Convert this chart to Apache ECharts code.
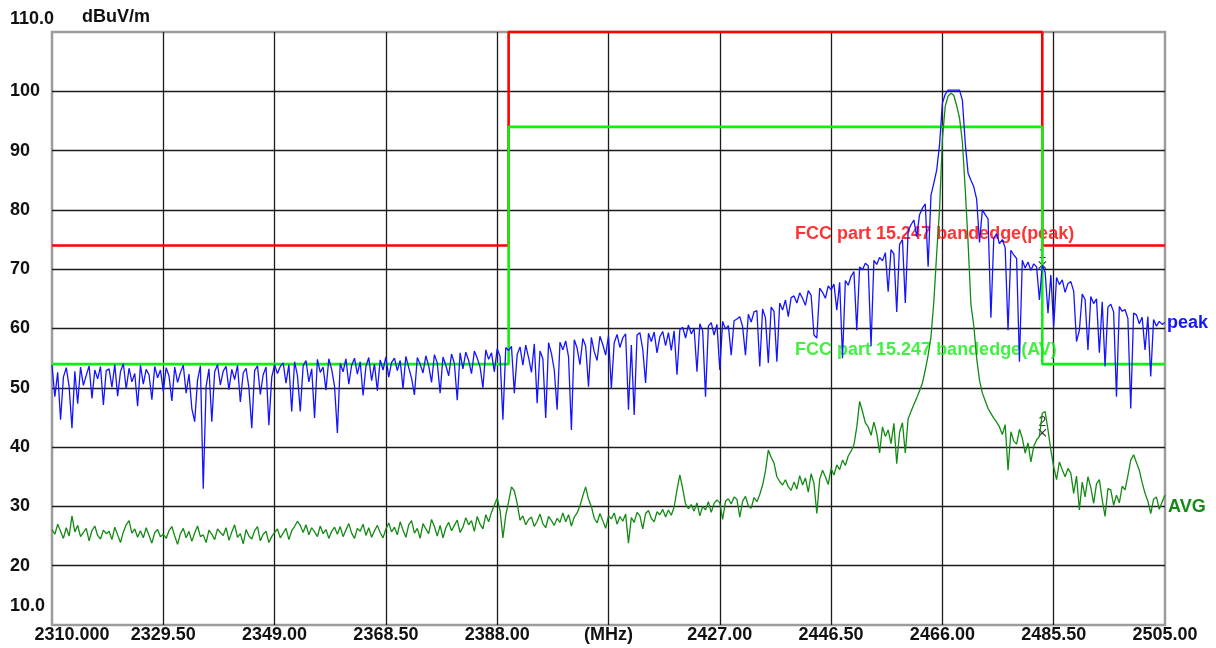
<!DOCTYPE html>
<html>
<head>
<meta charset="utf-8">
<title>Band edge scan 2310-2505 MHz</title>
<script src="https://cdn.jsdelivr.net/npm/echarts@6.0.0/dist/echarts.min.js"></script>
<style>
  html, body { margin: 0; padding: 0; background: #ffffff; }
  #chart { width: 1216px; height: 648px; }
</style>
</head>
<body>
<div id="chart"></div>
<script>
// Sweep sampling: one reading every 0.5 MHz from 2310 MHz to 2505 MHz
const freqStart = 2310;
const freqStep = 0.5;

// Peak detector trace (dBuV/m)
const peakLevels = [
  53.8, 48.5, 52.6, 44.6, 51.8, 53.4, 50.2, 43.2, 52.8, 47.3, 53.5, 50.4, 52.1, 53.7, 48.2, 53.0, 51.5, 53.6, 47.1, 52.9,
  53.2, 50.1, 53.9, 48.6, 52.7, 54.1, 49.8, 53.3, 51.0, 52.4, 46.9, 53.8, 50.6, 53.1, 52.2, 48.0, 53.6, 51.7, 53.0, 49.4,
  53.4, 52.0, 47.8, 53.5, 50.9, 52.6, 53.8, 49.1, 52.3, 46.5, 44.3, 51.3, 53.7, 33.0, 50.2, 53.2, 44.3, 52.7, 53.9, 50.5,
  52.8, 53.6, 49.7, 53.1, 51.4, 53.8, 47.6, 52.5, 53.3, 50.0, 43.2, 52.9, 53.7, 48.9, 52.2, 53.5, 43.7, 51.8, 53.9, 52.4,
  53.6, 54.2, 50.8, 53.9, 46.0, 54.4, 52.1, 46.0, 53.7, 54.6, 51.0, 53.2, 44.9, 54.8, 52.6, 53.5, 49.6, 54.9, 53.1, 50.3,
  42.4, 54.1, 52.7, 54.9, 50.6, 53.8, 55.0, 52.3, 54.4, 48.7, 53.6, 55.1, 51.2, 54.0, 49.5, 54.7, 53.0, 55.2, 51.8, 54.3,
  55.0, 52.9, 54.6, 49.9, 55.3, 53.4, 51.6, 48.8, 55.1, 54.0, 52.5, 55.4, 53.7, 50.9, 55.6, 54.2, 49.1, 55.2, 53.8, 52.0,
  55.7, 54.1, 47.9, 55.9, 53.2, 56.0, 54.6, 52.4, 56.2, 55.0, 53.5, 50.0, 56.4, 54.8, 55.9, 52.7, 56.6, 55.3, 44.6, 56.8,
  56.3, 57.0, 49.1, 55.6, 56.9, 53.8, 57.2, 55.1, 52.6, 57.4, 47.4, 56.2, 54.9, 44.9, 57.6, 55.8, 53.0, 46.3, 57.7, 56.4,
  57.9, 55.2, 42.9, 58.1, 56.7, 53.9, 58.3, 57.0, 50.2, 58.5, 56.1, 54.6, 58.7, 57.3, 55.5, 58.8, 49.9, 57.6, 59.0, 56.8,
  58.4, 59.1, 46.3, 57.2, 45.4, 58.9, 59.3, 56.5, 50.8, 59.2, 57.8, 59.4, 55.9, 58.6, 59.5, 57.1, 59.3, 56.3, 59.6, 52.2,
  59.8, 60.2, 58.4, 60.6, 59.1, 60.0, 52.7, 60.8, 59.6, 48.5, 60.4, 61.0, 58.9, 60.7, 53.0, 61.2, 59.9, 60.5, 55.5, 61.3,
  61.6, 62.0, 60.3, 55.5, 62.4, 61.1, 62.8, 63.0, 53.6, 63.3, 61.8, 54.2, 63.6, 62.9, 54.4, 64.3, 63.1, 64.8, 62.0, 65.2,
  65.5, 64.3, 66.0, 65.1, 63.9, 66.4, 65.6, 58.9, 58.4, 66.8, 66.1, 65.1, 67.2, 66.5, 67.5, 63.1, 67.8, 55.0, 68.1, 67.3,
  68.8, 69.6, 59.7, 70.4, 69.9, 71.0, 70.6, 57.0, 71.5, 70.8, 72.0, 71.4, 72.8, 66.2, 73.3, 72.6, 62.8, 74.2, 75.0, 64.3,
  76.5, 77.5, 78.3, 75.5, 79.2, 80.3, 81.0, 70.4, 82.5, 84.5, 86.7, 91.0, 98.0, 99.5, 100.2, 100.2, 100.2, 100.2, 100.2, 98.5,
  91.3, 86.2, 85.0, 83.9, 81.8, 74.5, 80.0, 79.2, 78.5, 61.8, 75.2, 76.0, 74.3, 75.0, 73.6, 59.7, 73.2, 72.4, 71.8, 54.4,
  71.5, 70.2, 71.2, 69.8, 70.9, 70.4, 64.8, 70.7, 69.5, 62.6, 69.0, 60.3, 68.6, 67.4, 68.2, 66.1, 67.6, 67.9, 66.3, 57.8,
  59.7, 65.8, 64.9, 56.4, 65.4, 64.2, 65.0, 55.9, 64.5, 53.6, 63.6, 64.1, 62.8, 48.5, 63.7, 62.9, 63.2, 61.7, 46.5, 62.6,
  62.3, 60.8, 61.9, 56.4, 62.0, 51.9, 61.5, 60.4, 61.2, 60.7, 61.0
];

// Average detector trace (dBuV/m)
const avgLevels = [
  26.1, 25.3, 27.0, 25.8, 24.6, 26.4, 25.0, 28.4, 25.7, 26.8, 24.9, 25.6, 26.3, 24.2, 25.9, 26.7, 25.1, 24.5, 26.0, 25.4,
  25.8, 24.4, 26.5, 25.2, 23.9, 25.7, 26.9, 27.6, 25.5, 26.2, 24.8, 25.9, 24.7, 26.4, 25.1, 23.8, 25.6, 26.1, 24.9, 25.3,
  24.6, 25.9, 26.6, 25.0, 23.6, 25.4, 26.3, 24.7, 25.8, 24.1, 25.5, 26.7, 24.9, 25.2, 23.9, 26.0, 25.3, 24.4, 26.2, 25.6,
  25.1, 26.4, 24.3, 25.7, 26.9, 24.8, 25.4, 23.7, 26.1, 25.0, 24.5, 25.9, 26.6, 24.2, 25.3, 25.8, 23.9, 24.9, 25.6, 26.2,
  24.7, 25.5, 26.3, 24.4, 25.9, 26.6, 27.5, 26.8, 25.6, 26.9, 25.2, 26.4, 25.7, 24.9, 26.7, 25.4, 26.1, 24.6, 25.8, 26.5,
  25.3, 26.6, 24.9, 26.0, 27.1, 25.5, 24.6, 26.3, 25.8, 27.0, 25.1, 26.4, 24.8, 25.9, 26.8, 25.6, 24.7, 26.2, 27.2, 25.7,
  26.5, 25.2, 27.4, 26.0, 24.8, 26.9, 27.6, 25.5, 26.3, 24.6, 27.1, 26.2, 25.4, 27.8, 26.6, 25.0, 26.8, 24.7, 26.4, 27.3,
  25.9, 26.8, 27.7, 25.6, 26.5, 28.1, 26.9, 27.6, 25.8, 28.3, 27.0, 26.2, 28.6, 27.4, 29.0, 30.2, 31.4, 29.3, 24.7, 28.5,
  30.8, 33.3, 32.6, 30.5, 27.7, 28.4, 26.9, 27.8, 28.2, 26.6, 27.5, 28.7, 27.1, 26.4, 28.3, 27.6, 26.8, 28.0, 27.3, 28.9,
  27.4, 28.6, 26.7, 28.2, 28.9, 30.1, 31.8, 33.3, 31.2, 30.0, 28.0, 27.2, 28.8, 27.6, 26.3, 28.4, 27.9, 28.9, 27.0, 28.3,
  27.5, 28.7, 23.8, 28.1, 27.3, 29.0, 28.4, 26.2, 28.8, 29.3, 28.0, 27.4, 29.1, 28.6, 29.5, 28.2, 29.4, 28.5, 29.9, 32.8,
  35.3, 33.0, 30.4, 29.6, 30.3, 29.2, 30.6, 28.4, 30.0, 29.4, 30.8, 29.0, 30.5, 31.1, 30.6, 27.8, 30.9, 31.3, 30.4, 31.6,
  31.2, 28.2, 30.9, 31.7, 30.1, 29.7, 31.5, 30.8, 32.0, 33.6, 36.0, 39.5, 38.3, 37.3, 35.0, 34.2, 33.6, 34.5, 33.3, 32.7,
  34.1, 32.9, 35.2, 33.6, 34.8, 32.4, 35.5, 33.9, 28.8, 34.6, 36.1, 35.0, 33.7, 36.4, 35.3, 37.0, 36.2, 37.8, 36.9, 38.5,
  39.3, 40.4, 43.4, 47.7, 46.0, 44.1, 43.4, 42.0, 44.2, 42.3, 39.0, 43.4, 41.8, 42.9, 40.6, 44.0, 37.2, 42.5, 44.1, 39.0,
  44.8, 46.0, 47.2, 48.3, 49.5, 50.8, 53.0, 55.5, 58.6, 64.5, 72.7, 80.0, 92.0, 97.5, 99.2, 99.7, 99.3, 97.6, 95.5, 91.5,
  83.5, 74.5, 64.0, 60.5, 55.0, 51.3, 49.1, 47.8, 46.5, 45.7, 44.9, 44.2, 43.4, 42.1, 43.8, 36.1, 42.6, 41.0, 40.5, 43.0,
  41.5, 39.0, 40.7, 37.5, 40.1, 41.2, 41.8, 45.7, 46.0, 42.9, 39.5, 36.7, 34.5, 37.5, 36.2, 35.0, 36.4, 35.6, 32.2, 35.1,
  29.4, 34.1, 31.6, 35.0, 33.2, 30.5, 33.8, 34.5, 31.1, 28.3, 33.0, 32.8, 30.2, 31.9, 30.6, 33.4, 32.8, 35.2, 37.8, 38.7,
  37.4, 36.1, 34.0, 32.2, 30.9, 28.8, 31.2, 31.6, 29.5, 30.8, 31.9
];

// FCC 15.247 band-edge limit lines (corner points)
const peakLimitFreq  = [2310, 2390, 2390, 2483.5, 2483.5, 2505];
const peakLimitLevel = [74, 74, 110, 110, 74, 74];
const avLimitFreq    = [2310, 2390, 2390, 2483.5, 2483.5, 2505];
const avLimitLevel   = [54, 54, 94, 94, 54, 54];
const limitCaptions  = ['FCC part 15.247 bandedge(peak)', 'FCC part 15.247 bandedge(AV)'];

// Band-edge markers
const markerFreq   = [2483.5, 2483.5];
const markerLevel  = [70.7, 42.4];
const markerNames  = ['1', '2'];

// Axis tick labels
const xTickLabels = ['2310.000', '2329.50', '2349.00', '2368.50', '2388.00', '(MHz)',
                     '2427.00', '2446.50', '2466.00', '2485.50', '2505.00'];
const yTickLabels = ['10.0', '20', '30', '40', '50', '60', '70', '80', '90', '100', '110.0'];

// ---------------------------------------------------------------------------
// The frequency axis runs in MHz offset from the sweep start, so its ticks
// land exactly on the 19.5 MHz divisions.
const axisStart = 2310;
const divisionMHz = 19.5;
const spanMHz = 195;
const toAxis = f => f - axisStart;

const FONT = '"Liberation Sans", Arial, Helvetica, sans-serif';
const labelFont = { fontFamily: FONT, fontSize: 18, fontWeight: 'bold', color: '#111111' };

const peakData = peakLevels.map((v, i) => [toAxis(freqStart + i * freqStep), v]);
const avgData  = avgLevels.map((v, i) => [toAxis(freqStart + i * freqStep), v]);
const peakLimitData = peakLimitFreq.map((f, i) => [toAxis(f), peakLimitLevel[i]]);
const avLimitData   = avLimitFreq.map((f, i) => [toAxis(f), avLimitLevel[i]]);
const markerData = markerFreq.map((f, i) => ({ name: markerNames[i], value: [toAxis(f), markerLevel[i]] }));

const xSymbol = 'path://M1,0 L5,4 L9,0 L10,1 L6,5 L10,9 L9,10 L5,6 L1,10 L0,9 L4,5 L0,1 Z';

const chart = echarts.init(document.getElementById('chart'), null, { renderer: 'canvas' });

chart.setOption({
  animation: false,
  backgroundColor: '#ffffff',
  textStyle: { fontFamily: FONT },
  grid: {
    left: 52, right: 51, top: 32, bottom: 23,
    show: true,
    borderColor: '#9c9c9c',
    borderWidth: 2.5,
    backgroundColor: 'transparent'
  },
  xAxis: {
    type: 'value',
    min: 0,
    max: spanMHz,
    interval: divisionMHz,
    axisLine: { show: false },
    axisTick: { show: false },
    splitLine: {
      show: true, showMinLine: false, showMaxLine: false,
      lineStyle: { color: '#1c1c1c', width: 1.3 }
    },
    axisLabel: Object.assign({}, labelFont, {
      margin: 1,
      formatter: function (value) {
        const idx = Math.round(value / divisionMHz);
        const text = xTickLabels[idx];
        return idx === 0 ? '{first|' + text + '}' : text;
      },
      rich: {
        first: Object.assign({}, labelFont, { padding: [0, 0, 0, 40] })
      }
    })
  },
  yAxis: {
    type: 'value',
    min: 10,
    max: 110,
    interval: 10,
    name: 'dBuV/m',
    nameLocation: 'end',
    nameGap: 15,
    nameTextStyle: Object.assign({}, labelFont, {
      align: 'left', verticalAlign: 'middle', padding: [0, 0, 0, 30]
    }),
    axisLine: { show: false },
    axisTick: { show: false },
    splitLine: {
      show: true, showMinLine: false, showMaxLine: false,
      lineStyle: { color: '#1c1c1c', width: 1.3 }
    },
    axisLabel: Object.assign({}, labelFont, {
      margin: 42,
      align: 'left',
      formatter: function (value) {
        const idx = Math.round((value - 10) / 10);
        const text = yTickLabels[idx];
        if (idx === 0) return '{low|' + text + '}';
        if (idx === yTickLabels.length - 1) return '{high|' + text + '}';
        return text;
      },
      rich: {
        low: Object.assign({}, labelFont, { padding: [0, 0, 37, 0] }),
        high: Object.assign({}, labelFont, { padding: [0, 0, 26, 0] })
      }
    })
  },
  series: [
    {
      name: 'limit captions',
      type: 'scatter',
      z: 1,
      silent: true,
      symbolSize: 1,
      itemStyle: { color: 'rgba(0,0,0,0)' },
      label: {
        show: true,
        position: 'right',
        distance: 0,
        fontFamily: FONT,
        fontSize: 18,
        fontWeight: 'bold',
        formatter: p => p.name
      },
      data: [
        { name: limitCaptions[0], value: [toAxis(2440.1), 76.0], label: { color: '#ff0000' } },
        { name: limitCaptions[1], value: [toAxis(2440.1), 56.3], label: { color: '#11ee11' } }
      ]
    },
    {
      name: 'markers',
      type: 'scatter',
      z: 2,
      silent: true,
      symbol: xSymbol,
      symbolSize: 8,
      itemStyle: { color: '#000000' },
      label: {
        show: true,
        position: 'top',
        distance: 0,
        fontFamily: FONT,
        fontSize: 14,
        color: '#000000',
        formatter: p => p.name
      },
      data: markerData
    },
    {
      name: 'peak limit',
      type: 'line',
      z: 3,
      silent: true,
      clip: false,
      showSymbol: false,
      lineStyle: { color: '#ff0000', width: 2.6 },
      data: peakLimitData
    },
    {
      name: 'AV limit',
      type: 'line',
      z: 3,
      silent: true,
      clip: false,
      showSymbol: false,
      lineStyle: { color: '#11ee11', width: 2.6 },
      data: avLimitData
    },
    {
      name: 'AVG',
      type: 'line',
      z: 4,
      silent: true,
      showSymbol: false,
      lineStyle: { color: '#138a13', width: 1.3 },
      data: avgData,
      endLabel: {
        show: true,
        formatter: 'AVG',
        distance: 3,
        offset: [0, 12],
        color: '#138a13',
        fontFamily: FONT,
        fontSize: 18,
        fontWeight: 'bold'
      }
    },
    {
      name: 'peak',
      type: 'line',
      z: 5,
      silent: true,
      showSymbol: false,
      lineStyle: { color: '#1414ff', width: 1.3 },
      data: peakData,
      endLabel: {
        show: true,
        formatter: 'peak',
        distance: 2,
        color: '#1414ff',
        fontFamily: FONT,
        fontSize: 18,
        fontWeight: 'bold'
      }
    }
  ]
});
</script>
</body>
</html>
